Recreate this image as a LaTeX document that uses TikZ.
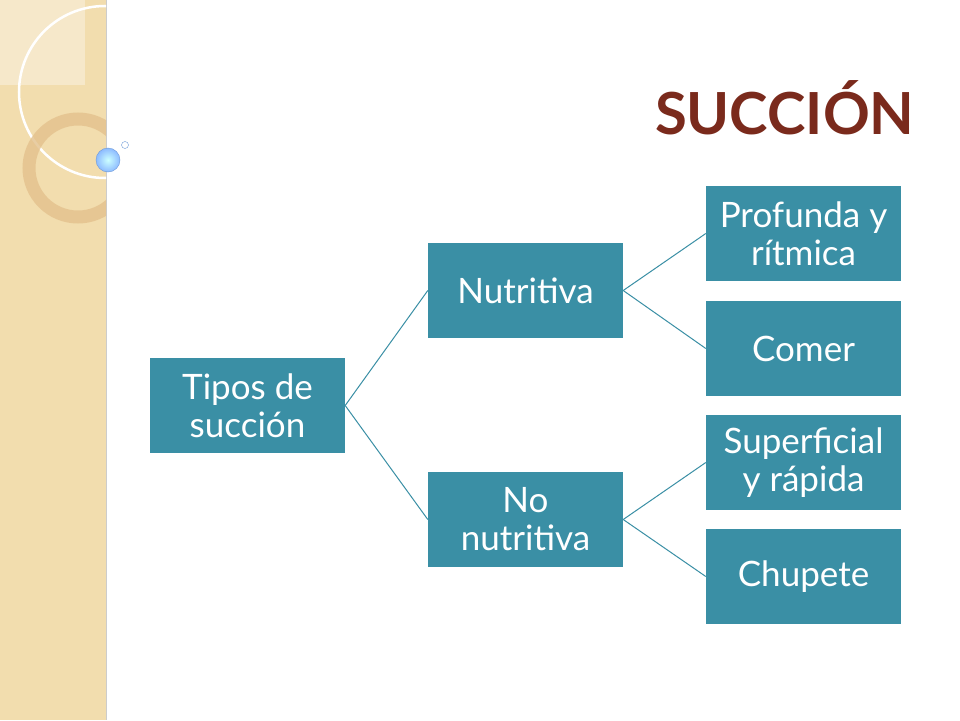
\documentclass[tikz,border=0pt]{standalone}
\usepackage{fontspec}
\setmainfont{Lato}
\definecolor{teal1}{HTML}{3A8FA5}
\definecolor{beige}{HTML}{F2DDAE}
\definecolor{titlered}{HTML}{7A2A1C}
\begin{document}
\begin{tikzpicture}[x=1pt,y=-1pt,
  box/.style={fill=teal1,text=white,minimum width=195pt,minimum height=95pt,inner sep=1pt,align=center,font=\fontsize{35}{38}\selectfont},
  conn/.style={draw=teal1,line width=1pt}]
\useasboundingbox (0,0) rectangle (960,720);
\fill[white] (0,0) rectangle (960,720);
% decorative strip
\fill[beige] (0,0) rectangle (106,720);
\draw[black!20,line width=1pt] (106,0) -- (106,720);
\begin{scope}
\clip (0,0) rectangle (106,720);
\fill[white,opacity=0.35] (0,0) rectangle (85,85);
\draw[white,line width=2.5pt] (105,92) circle (86);
\draw[brown!30!beige,line width=13pt,opacity=0.8] (78,168) circle (49);
\end{scope}
\shade[inner color=white!80!cyan,outer color=cyan!40!blue!45,draw=cyan!50!blue!60] (108,160) circle (12);
\draw[cyan!50!blue!60,fill=white] (125,145) circle (3.5);
% title
\node[anchor=base east,text=titlered,font=\fontsize{58}{62}\selectfont\bfseries] (title) at (918,134) {SUCCIÓN};
% boxes
\node[box] (root) at (247.5,405.5) {Tipos de\\succión};
\node[box] (nut) at (525.5,290.5) {Nutritiva};
\node[box] (nonut) at (525.5,519.5) {No\\nutritiva};
\node[box] (prof) at (803.5,233.5) {Profunda y\\rítmica};
\node[box] (comer) at (803.5,348.5) {Comer};
\node[box] (sup) at (803.5,462.5) {Superficial\\y rápida};
\node[box] (chup) at (803.5,576.5) {Chupete};
\draw[conn] (root.east) -- (nut.west);
\draw[conn] (root.east) -- (nonut.west);
\draw[conn] (nut.east) -- (prof.west);
\draw[conn] (nut.east) -- (comer.west);
\draw[conn] (nonut.east) -- (sup.west);
\draw[conn] (nonut.east) -- (chup.west);
\end{tikzpicture}
\end{document}
